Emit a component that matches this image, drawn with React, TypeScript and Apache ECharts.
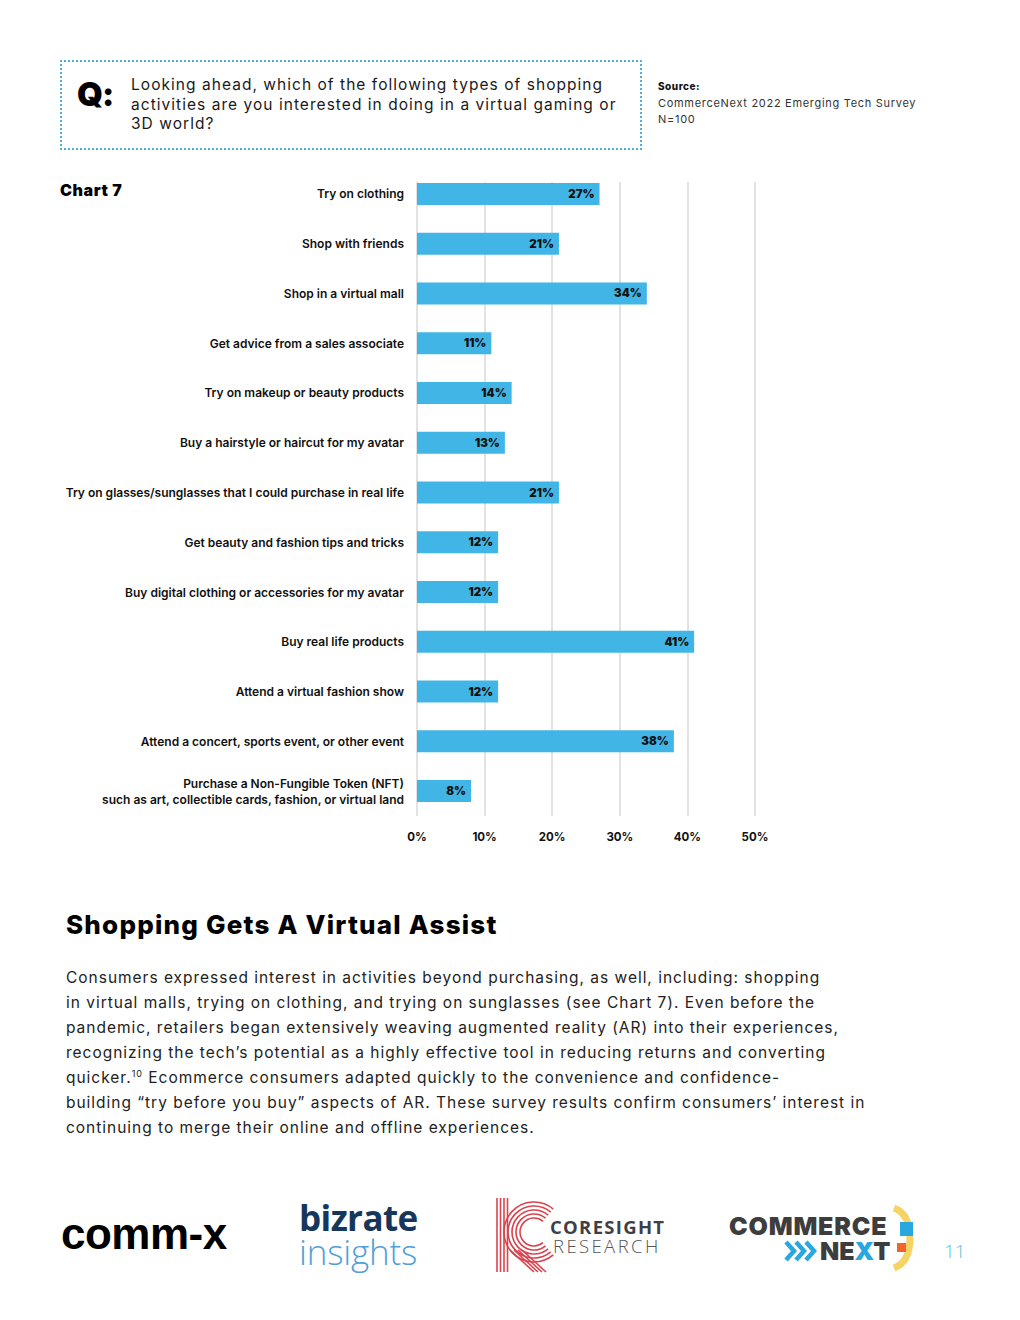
import React, { useEffect, useRef } from "react";
import * as echarts from "echarts";

const categories = [
  "Try on clothing",
  "Shop with friends",
  "Shop in a virtual mall",
  "Get advice from a sales associate",
  "Try on makeup or beauty products",
  "Buy a hairstyle or haircut for my avatar",
  "Try on glasses/sunglasses that I could purchase in real life",
  "Get beauty and fashion tips and tricks",
  "Buy digital clothing or accessories for my avatar",
  "Buy real life products",
  "Attend a virtual fashion show",
  "Attend a concert, sports event, or other event",
  "Purchase a Non-Fungible Token (NFT)\nsuch as art, collectible cards, fashion, or virtual land",
];
const values = [27, 21, 34, 11, 14, 13, 21, 12, 12, 41, 12, 38, 8];
const axisMin = 0;
const axisMax = 50;
const axisStep = 10;

const questionLines = [
  "Looking ahead, which of the following types of shopping",
  "activities are you interested in doing in a virtual gaming or",
  "3D world?",
];
const sourceLines = ["CommerceNext 2022 Emerging Tech Survey", "N=100"];
const paragraphLines = [
  "Consumers expressed interest in activities beyond purchasing, as well, including: shopping",
  "in virtual malls, trying on clothing, and trying on sunglasses (see Chart 7). Even before the",
  "pandemic, retailers began extensively weaving augmented reality (AR) into their experiences,",
  "recognizing the tech\u2019s potential as a highly effective tool in reducing returns and converting",
  "__SUP__",
  "building \u201ctry before you buy\u201d aspects of AR. These survey results confirm consumers\u2019 interest in",
  "continuing to merge their online and offline experiences.",
];

const FONT = "Inter, 'Noto Sans', sans-serif";
const LABEL_FONT = "Inter, 'Noto Sans', sans-serif";

function Chart() {
  const ref = useRef<HTMLDivElement>(null);
  useEffect(() => {
    if (!ref.current) return;
    const chart = echarts.init(ref.current, undefined, { renderer: "svg" });
    chart.setOption({
      animation: false,
      grid: { left: 417, top: 169, width: 338, height: 647, containLabel: false },
      xAxis: {
        type: "value",
        min: axisMin,
        max: axisMax,
        interval: axisStep,
        axisLine: { show: false },
        axisTick: { show: false },
        splitLine: { show: true, lineStyle: { color: "#e2e2e2", width: 2 } },
        axisLabel: {
          formatter: "{value}%",
          margin: 15,
          fontFamily: LABEL_FONT,
          fontWeight: 700,
          fontSize: 11.5,
          color: "#111",
        },
      },
      yAxis: {
        type: "category",
        inverse: true,
        data: categories,
        axisLine: { show: false },
        axisTick: { show: false },
        axisLabel: {
          margin: 13,
          fontFamily: LABEL_FONT,
          fontWeight: 600,
          fontSize: 12,
          lineHeight: 16,
          color: "#111",
        },
      },
      graphic: [
        {
          type: "rect",
          left: 410,
          top: 166,
          shape: { width: 355, height: 16 },
          style: { fill: "#fff" },
          z: 3,
          silent: true,
        },
      ],
      series: [
        {
          type: "bar",
          data: values,
          barWidth: 22,
          z: 5,
          itemStyle: { color: "#41b6e6" },
          label: {
            show: true,
            position: "insideRight",
            distance: 5,
            formatter: "{c}%",
            fontFamily: LABEL_FONT,
            fontWeight: 900,
            fontSize: 11.5,
            color: "#111",
          },
        },
      ],
    });
    return () => chart.dispose();
  }, []);
  return (
    <div
      ref={ref}
      style={{ position: "absolute", left: 0, top: 0, width: 1020, height: 1320 }}
    />
  );
}

function abs(left: number, top: number, extra: React.CSSProperties = {}): React.CSSProperties {
  return { position: "absolute", left, top, margin: 0, whiteSpace: "nowrap", ...extra };
}

export default function App() {
  return (
    <div
      style={{
        position: "absolute",
        left: 0,
        top: 0,
        width: 1020,
        height: 1320,
        background: "#fff",
        overflow: "hidden",
        fontFamily: FONT,
      }}
    >
      <Chart />

      {/* Question box */}
      <div
        style={{
          position: "absolute",
          left: 60,
          top: 60,
          width: 578,
          height: 86,
          border: "2px dotted #4fb0d8",
        }}
      />
      <div style={abs(77, 74, { fontSize: 33, fontWeight: 900, color: "#000", lineHeight: "40px", letterSpacing: -1 })}>
        Q:
      </div>
      {questionLines.map((t, i) => (
        <div
          key={i}
          style={abs(131, 75 + i * 19.5, {
            fontSize: 15.5,
            lineHeight: "19.5px",
            color: "#1a1a1a",
            letterSpacing: 1.04,
          })}
        >
          {t}
        </div>
      ))}

      {/* Source */}
      <div style={abs(658, 79, { fontSize: 10, fontWeight: 800, color: "#111", lineHeight: "14px", letterSpacing: 0.5 })}>
        Source:
      </div>
      {sourceLines.map((t, i) => (
        <div key={i} style={abs(658, 96 + i * 16, { fontSize: 11, color: "#333", lineHeight: "14px", letterSpacing: 0.7 })}>
          {t}
        </div>
      ))}

      {/* Chart title */}
      <div style={abs(60, 180, { fontSize: 16, fontWeight: 900, color: "#000", lineHeight: "20px", letterSpacing: 0.6 })}>
        Chart 7
      </div>

      {/* Heading */}
      <div style={abs(66, 908, { fontSize: 26, fontWeight: 800, color: "#000", lineHeight: "34px", letterSpacing: 1.2 })}>
        Shopping Gets A Virtual Assist
      </div>

      {/* Paragraph */}
      {paragraphLines.map((t, i) => (
        <div
          key={i}
          style={abs(66, 966 + i * 25, {
            fontSize: 15.5,
            lineHeight: "24px",
            color: "#222",
            letterSpacing: 0.98,
          })}
        >
          {t === "__SUP__" ? (
            <>
              quicker.<sup style={{ fontSize: 9, lineHeight: 0 }}>10</sup> Ecommerce consumers adapted quickly to the convenience and confidence-
            </>
          ) : (
            t
          )}
        </div>
      ))}

      {/* Logos */}
      <div style={abs(61, 1210, { fontSize: 44, fontWeight: 800, color: "#000", lineHeight: "48px", letterSpacing: -0.5, fontFamily: "'Liberation Sans', Arial, sans-serif" })}>
        comm-x
      </div>

      <div style={abs(299, 1201, { fontSize: 35, lineHeight: "34px", fontFamily: "'Open Sans', sans-serif" })}>
        <span style={{ fontWeight: 700, color: "#16365c", letterSpacing: -0.6 }}>bizrate</span>
        <br />
        <span style={{ fontWeight: 300, color: "#4f9fda", letterSpacing: -0.2 }}>insights</span>
      </div>

      <svg style={{ position: "absolute", left: 490, top: 1194 }} width="72" height="82" viewBox="0 0 72 82">
        {[0, 3.5, 7, 10.5].map((d, i) => (
          <line key={"v" + i} x1={7 + d} y1={4} x2={7 + d} y2={78} stroke="#d9434e" strokeWidth={1.6} />
        ))}
        {[14, 18, 22, 26, 30].map((r, i) => {
          const cx = 44;
          const cy = 38;
          const a1 = (-50 * Math.PI) / 180;
          const a2 = (50 * Math.PI) / 180;
          const x1 = cx + r * Math.cos(a1);
          const y1 = cy + r * Math.sin(a1);
          const x2 = cx + r * Math.cos(a2);
          const y2 = cy + r * Math.sin(a2);
          return (
            <path
              key={"a" + i}
              d={`M ${x1} ${y1} A ${r} ${r} 0 1 0 ${x2} ${y2}`}
              fill="none"
              stroke="#d9434e"
              strokeWidth={1.6}
            />
          );
        })}
        {[0, 4, 8, 12].map((d, i) => (
          <line key={"d" + i} x1={20 + d} y1={56} x2={44 + d} y2={78} stroke="#d9434e" strokeWidth={1.6} />
        ))}
      </svg>
      <div style={abs(550, 1217, { fontSize: 18.5, lineHeight: "19px", fontFamily: "'Open Sans', sans-serif" })}>
        <span style={{ fontWeight: 700, color: "#3f3f46", letterSpacing: 1.3 }}>CORESIGHT</span>
        <br />
        <span style={{ fontWeight: 300, color: "#555", letterSpacing: 2.4, marginLeft: 3 }}>RESEARCH</span>
      </div>

      <div style={abs(729, 1214, { fontSize: 25, fontWeight: 900, color: "#3d3d3d", lineHeight: "25px", fontFamily: FONT })}>
        <span style={{ letterSpacing: 0.8 }}>COMMERCE</span>
        <br />
        <span style={{ marginLeft: 91 }}>
          NE<span style={{ color: "#29a8e0" }}>X</span>T
        </span>
      </div>
      <svg style={{ position: "absolute", left: 784, top: 1239 }} width="40" height="24" viewBox="0 0 40 24">
        {[2, 12, 22].map((x, i) => (
          <polyline key={i} points={`${x},3 ${x + 8},12 ${x},21`} fill="none" stroke="#29a8e0" strokeWidth={4.5} />
        ))}
      </svg>
      <svg style={{ position: "absolute", left: 888, top: 1204 }} width="30" height="68" viewBox="0 0 30 68">
        <path d="M 6 4 Q 22 10 22 34 Q 22 58 6 64" fill="none" stroke="#f6d365" strokeWidth={7} />
        <rect x={12} y={18} width={13} height={14} fill="#29a8e0" />
        <rect x={9} y={39} width={9} height={9} fill="#f0662a" />
      </svg>

      <div style={abs(944, 1239, { fontSize: 19, fontWeight: 300, color: "#5bbfe0", lineHeight: "24px", fontFamily: "'Open Sans', sans-serif" })}>
        11
      </div>
    </div>
  );
}
